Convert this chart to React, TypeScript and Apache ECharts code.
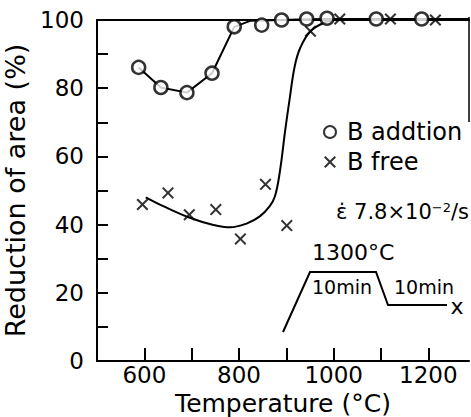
import React, { useEffect, useRef } from "react";
import * as echarts from "echarts";

// B addition (circles)
const bAdditionT = [588, 635, 690, 743, 790, 848, 890, 943, 986, 1090, 1186];
const bAdditionRA = [86.1, 80.2, 78.7, 84.4, 98, 98.5, 100, 100.3, 100.5, 100.3, 100.3];
// line drawn through the B addition points, continuing to the right edge
const bAdditionLineT = [588, 635, 690, 743, 790, 825, 890, 943, 986, 1090, 1186, 1286];
const bAdditionLineRA = [86.1, 80.2, 78.7, 84.4, 98, 99.8, 100, 100.2, 100.3, 100.3, 100.3, 100.3];

// B free (crosses)
const bFreeT = [596, 650, 695, 751, 803, 856, 901, 951, 1013, 1120, 1215];
const bFreeRA = [45.9, 49.3, 42.9, 44.4, 35.8, 51.8, 39.7, 96.7, 100.3, 100.3, 100];
// hand-drawn fitted curve for B free
const bFreeCurveT = [603, 640, 696, 746, 781, 816, 844, 865, 876, 886, 898, 907, 918, 930, 951, 980, 1010];
const bFreeCurveRA = [48, 45.4, 42, 39.9, 39.2, 40.3, 42.4, 45.4, 48.3, 55.2, 68, 76.8, 86.6, 92, 96.7, 99.2, 100.2];

const xTickLabels = [600, 800, 1000, 1200];
const yTickLabels = [0, 20, 40, 60, 80, 100];

const FONT = "DejaVu Sans";
const X_PATH = "path://M0,1.2L1.2,0L5,3.8L8.8,0L10,1.2L6.2,5L10,8.8L8.8,10L5,6.2L1.2,10L0,8.8L3.8,5Z";

export default function App() {
  const ref = useRef<HTMLDivElement>(null);
  useEffect(() => {
    if (!ref.current) return;
    const chart = echarts.init(ref.current, null, { renderer: "svg" });
    const zip = (a: number[], b: number[]) => a.map((v, i) => [v, b[i]]);
    const axisLine = { show: true, lineStyle: { color: "#000", width: 2 } };
    chart.setOption({
      animation: false,
      backgroundColor: "#fff",
      textStyle: { fontFamily: FONT, color: "#000" },
      grid: { left: 97, right: 2, top: 20, bottom: 56, containLabel: false, outerBoundsMode: "none" },
      xAxis: [
        {
          type: "value",
          min: 500,
          max: 1286,
          interval: 100,
          axisLine,
          axisTick: { show: true, inside: true, length: 13, lineStyle: { color: "#000", width: 2 } },
          axisLabel: {
            color: "#000",
            fontFamily: FONT,
            fontSize: 23,
            margin: 2,
            showMaxLabel: false,
            formatter: (v: number) => (xTickLabels.includes(v) ? String(v) : ""),
          },
          splitLine: { show: false },
          name: "Temperature (°C)",
          nameLocation: "middle",
          nameGap: 25,
          nameTextStyle: { color: "#000", fontFamily: FONT, fontSize: 25 },
        },
        {
          type: "value",
          position: "top",
          min: 500,
          max: 1286,
          axisLine,
          axisTick: { show: false },
          axisLabel: { show: false },
          splitLine: { show: false },
        },
      ],
      yAxis: {
        type: "value",
        min: 0,
        max: 100,
        interval: 10,
        axisLine,
        axisTick: { show: true, inside: true, length: 11, lineStyle: { color: "#000", width: 2 } },
        axisLabel: {
          color: "#000",
          fontFamily: FONT,
          fontSize: 23,
          margin: 13,
          formatter: (v: number) => (yTickLabels.includes(v) ? String(v) : ""),
        },
        splitLine: { show: false },
        name: "Reduction of area (%)",
        nameLocation: "middle",
        nameRotate: 90,
        nameGap: 44,
        nameTextStyle: { color: "#000", fontFamily: FONT, fontSize: 27 },
      },
      legend: {
        orient: "vertical",
        left: 318,
        top: 115,
        itemWidth: 12,
        itemHeight: 12,
        itemGap: 6,
        textStyle: { color: "#000", fontFamily: FONT, fontSize: 24, padding: [0, 0, 0, 6] },
        data: ["B addtion", "B free"],
      },
      series: [
        {
          type: "line",
          data: zip(bAdditionLineT, bAdditionLineRA),
          symbol: "none",
          clip: false,
          lineStyle: { color: "#000", width: 2 },
          z: 2,
          silent: true,
        },
        {
          type: "line",
          data: zip(bFreeCurveT, bFreeCurveRA),
          symbol: "none",
          smooth: 0.4,
          clip: false,
          lineStyle: { color: "#000", width: 2 },
          z: 2,
          silent: true,
        },
        {
          name: "B addtion",
          type: "scatter",
          data: zip(bAdditionT, bAdditionRA),
          symbol: "circle",
          symbolSize: 13,
          clip: false,
          itemStyle: { color: "#fff", borderColor: "#000", borderWidth: 2.5 },
          z: 5,
        },
        {
          name: "B free",
          type: "scatter",
          data: zip(bFreeT, bFreeRA),
          symbol: X_PATH,
          symbolSize: 12,
          clip: false,
          itemStyle: { color: "#000" },
          z: 5,
        },
      ],
      graphic: [
        {
          type: "line",
          shape: { x1: 469, y1: 17, x2: 469, y2: 122 },
          style: { stroke: "#000", lineWidth: 1.5 },
        },
        {
          type: "text",
          x: 336,
          y: 212,
          style: {
            text: "{a|ε̇ 7.8×10}{s|−2}{a|/s}",
            fill: "#000",
            verticalAlign: "middle",
            rich: {
              a: { fontFamily: FONT, fontSize: 21, fill: "#000" },
              s: { fontFamily: FONT, fontSize: 13, fill: "#000", verticalAlign: "top", padding: [0, 0, 10, 0] },
            },
          },
        },
        {
          type: "text",
          x: 312,
          y: 252,
          style: { text: "1300°C", fill: "#000", fontFamily: FONT, fontSize: 22, verticalAlign: "middle" },
        },
        {
          type: "polyline",
          shape: { points: [[283, 332], [310, 272], [376, 272], [388, 305], [447, 305]] },
          style: { stroke: "#000", lineWidth: 2, fill: "none" },
        },
        {
          type: "text",
          x: 342,
          y: 287,
          style: { text: "10min", fill: "#000", fontFamily: FONT, fontSize: 19, align: "center", verticalAlign: "middle" },
        },
        {
          type: "text",
          x: 424,
          y: 287,
          style: { text: "10min", fill: "#000", fontFamily: FONT, fontSize: 19, align: "center", verticalAlign: "middle" },
        },
        {
          type: "text",
          x: 457,
          y: 306,
          style: { text: "x", fill: "#000", fontFamily: FONT, fontSize: 22, align: "center", verticalAlign: "middle" },
        },
      ],
    });
    return () => chart.dispose();
  }, []);
  return <div ref={ref} style={{ position: "fixed", left: 0, top: 0, width: 471, height: 417 }} />;
}
